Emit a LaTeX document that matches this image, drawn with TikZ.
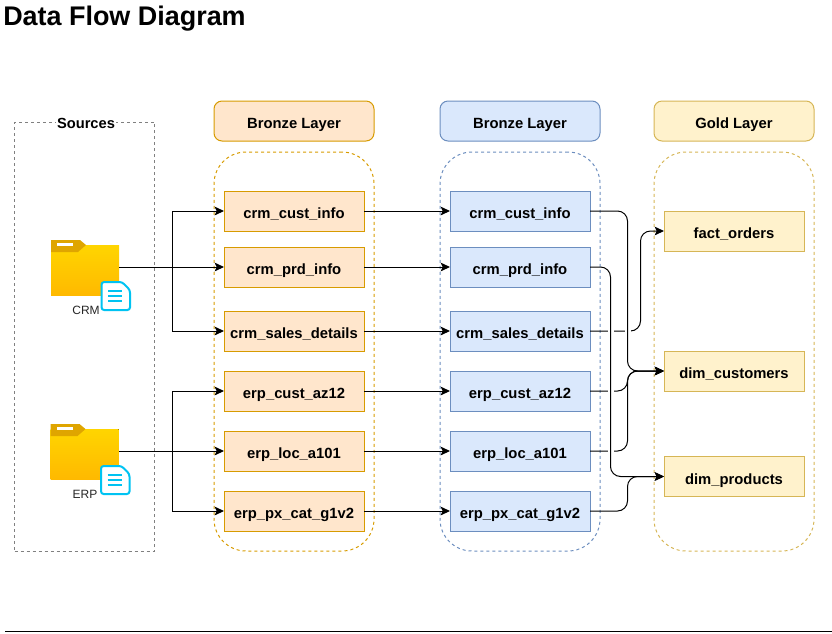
\documentclass[tikz,border=0pt]{standalone}
\usepackage{fontspec}
\setmainfont{Liberation Sans}
\usetikzlibrary{arrows.meta,calc}
\definecolor{bfill}{HTML}{FFE6CC}\definecolor{bline}{HTML}{D79B00}
\definecolor{sfill}{HTML}{DAE8FC}\definecolor{sline}{HTML}{6C8EBF}
\definecolor{gfill}{HTML}{FFF2CC}\definecolor{gline}{HTML}{D6B656}
\definecolor{folderA}{HTML}{FFD500}\definecolor{folderB}{HTML}{FFB900}
\definecolor{foldertab}{HTML}{DFA500}\definecolor{docblue}{HTML}{00C3F2}
\definecolor{srcline}{HTML}{808080}
\tikzset{
  box/.style={draw=#1,line width=0.75pt,minimum width=105pt,minimum height=30pt,inner sep=0pt,outer sep=0pt,text height=11.5pt,text depth=0pt,font=\fontsize{11.1}{13}\selectfont\bfseries,text=black},
  bbox/.style={box=bline,fill=bfill},
  sbox/.style={box=sline,fill=sfill},
  gbox/.style={box=gline,fill=gfill},
  head/.style={rounded corners=6pt,minimum width=120pt},
  group/.style={draw=#1,line width=0.75pt,dash pattern=on 2.25pt off 2.25pt,rounded corners=24pt,minimum width=120pt,minimum height=299.25pt,inner sep=0pt},
  conn/.style={draw=black,line width=0.75pt,-{Stealth[length=7pt,width=6.5pt,inset=1.5pt]}},
  flow/.style={conn,rounded corners=7.5pt},
  foldercap/.style={font=\fontsize{9}{11}\selectfont,text=black!85,inner sep=0pt},
  gapmark/.style={draw=white,line width=1.5pt},
  pics/datafolder/.style={code={
    \fill[top color=folderA,bottom color=folderB] (0,5)--(68,5)--(68,55)--(0,55)--cycle;
    \fill[foldertab] (0,0)--(29,0)--(35,5)--(27,12)--(0,12)--cycle;
    \fill[white] (6,2.5) rectangle (22,5.5);
    \filldraw[draw=docblue,fill=white,line width=1.5pt,rounded corners=2pt] (50.5,42)--(71,42)--(79,50)--(79,70)--(50.5,70)--cycle;
    \draw[docblue,line width=1.5pt] (57,51)--(71,51) (57,56)--(71,56) (57,61)--(71,61);
  }}
}
\begin{document}
\begin{tikzpicture}[x=0.75pt,y=-0.75pt]
\useasboundingbox (0,0) rectangle (832,633);
\node[anchor=west,inner sep=0pt,font=\fontsize{20.2}{22}\selectfont\bfseries] (title) at (3,19) {Data Flow Diagram};
\coordinate (rs) at (5,631); \coordinate (re) at (832,631);
\draw[line width=0.75pt] (rs)--(re);

% containers
\node[group=srcline,rounded corners=0pt,minimum width=105pt,minimum height=321.75pt] (src) at (84.5,336.5) {};
\node[fill=white,inner sep=1pt,font=\fontsize{11}{13}\selectfont\bfseries] (srcl) at (86,123) {Sources};
\node[group=bline] (bg) at (294,351.5) {};
\node[group=sline] (sg) at (520,351.5) {};
\node[group=gline] (gg) at (734,351.5) {};

% headers
\node[bbox,head] (bh) at (294,121) {Bronze Layer};
\node[sbox,head] (sh) at (520,121) {Bronze Layer};
\node[gbox,head] (gh) at (734,121) {Gold Layer};

% bronze tables
\node[bbox] (b1) at (294,211) {crm\_cust\_info};
\node[bbox] (b2) at (294,267) {crm\_prd\_info};
\node[bbox] (b3) at (294,331) {crm\_sales\_details};
\node[bbox] (b4) at (294,391) {erp\_cust\_az12};
\node[bbox] (b5) at (294,451) {erp\_loc\_a101};
\node[bbox] (b6) at (294,511) {erp\_px\_cat\_g1v2};

% silver tables
\node[sbox] (s1) at (520,211) {crm\_cust\_info};
\node[sbox] (s2) at (520,267) {crm\_prd\_info};
\node[sbox] (s3) at (520,331) {crm\_sales\_details};
\node[sbox] (s4) at (520,391) {erp\_cust\_az12};
\node[sbox] (s5) at (520,451) {erp\_loc\_a101};
\node[sbox] (s6) at (520,511) {erp\_px\_cat\_g1v2};

% gold tables
\node[gbox] (g1) at (734,231) {fact\_orders};
\node[gbox] (g2) at (734,371) {dim\_customers};
\node[gbox] (g3) at (734,476.5) {dim\_products};

% folders
\pic at (51,240) {datafolder};
\pic at (50.5,424) {datafolder};
\node[foldercap] (crml) at (86,310) {CRM};
\node[foldercap] (erpl) at (85,494) {ERP};
\coordinate (crmf) at (119,267);
\coordinate (erpf) at (119,451);
\coordinate (crmj) at (172,267);
\coordinate (erpj) at (172,451);

% source connectors
\draw[conn] (crmf)--(b2.west);
\draw[conn] (crmj)|-(b1.west);
\draw[conn] (crmj)|-(b3.west);
\draw[conn] (erpf)--(b5.west);
\draw[conn] (erpj)|-(b4.west);
\draw[conn] (erpj)|-(b6.west);

% bronze to silver
\foreach \i in {1,...,6} {\draw[conn] (b\i.east)--(s\i.west);}

% silver to gold
\coordinate (xa) at (610.5,0);
\coordinate (xb) at (627.5,0);
\coordinate (xc) at (640.5,0);
\draw[flow] (s3.east)-|(xc |- g1.west)--(g1.west);
\draw[flow] (s4.east)-|(xb |- g2.west)--(g2.west);
\draw[flow] (s5.east)-|(xb |- g2.west)--(g2.west);
\draw[gapmark] ($(s3.east -| xa)+(-3,0)$)--($(s3.east -| xa)+(3,0)$);
\draw[gapmark] ($(s3.east -| xb)+(-3,0)$)--($(s3.east -| xb)+(3,0)$);
\draw[gapmark] ($(s4.east -| xa)+(-3,0)$)--($(s4.east -| xa)+(3,0)$);
\draw[gapmark] ($(s5.east -| xa)+(-3,0)$)--($(s5.east -| xa)+(3,0)$);
\draw[flow] (s1.east)-|(xb |- g2.west)--(g2.west);
\draw[flow] (s2.east)-|(xa |- g3.west)--(g3.west);
\draw[flow] (s6.east)-|(xb |- g3.west)--(g3.west);
\end{tikzpicture}
\end{document}
